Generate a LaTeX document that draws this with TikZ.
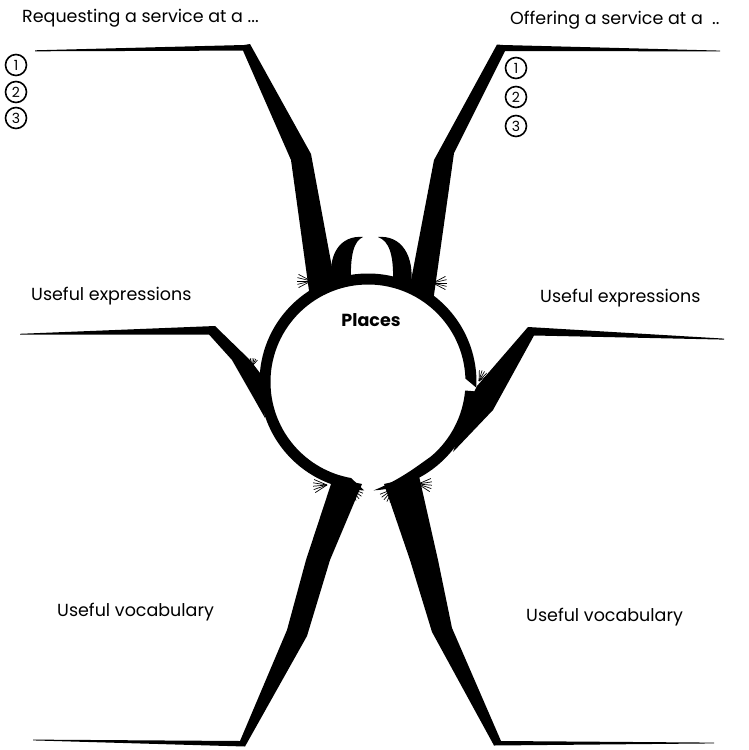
\documentclass[tikz,border=0pt]{standalone}
\usepackage{fontspec}
\setmainfont{Poppins}
\usetikzlibrary{calc}
\definecolor{ink}{HTML}{000000}
\tikzset{
  branch/.style={fill=ink},
  ring/.style={fill=ink},
  fringe/.style={draw=ink, line width=0.7pt},
  topic/.style={font=\fontsize{17.5}{20}\selectfont, anchor=west, inner sep=0pt},
  hub/.style={font=\fontsize{17.5}{20}\selectfont\bfseries, inner sep=0pt},
  numc/.style={circle, draw=ink, line width=1.6pt, minimum size=21pt,
    inner sep=0pt, font=\fontsize{14}{15}\selectfont}
}
\newcommand{\FringeAt}[3]{%
  \foreach \d in {-28,-14,0,14,28}
    \draw[fringe] (#1) -- ++(#2+\d:#3);
}

\begin{document}
\begin{tikzpicture}[x=1pt,y=-1pt]
  \useasboundingbox (0,0) rectangle (748,750);

  % the ring round the topic
  \begin{scope}[shift={(368,382)}]
    \fill[ring] (92:108.5) arc[start angle=92, end angle=363, radius=108.5]
      -- (358:97.5) arc[start angle=358, end angle=100, radius=97.5] -- cycle;
    \fill[ring] (5:108.5) arc[start angle=5, end angle=87, radius=108.5]
      .. controls (72:103) and (60:97.5) .. (50:97.5)
      arc[start angle=50, end angle=5, radius=97.5] -- cycle;
  \end{scope}

  % the two horns on top
  \fill[branch] (332,284) .. controls (327,255) and (340,235) .. (363,237)
    .. controls (354,241) and (350,254) .. (351,284) -- cycle;
  \fill[branch] (411,287) .. controls (415,255) and (401,235) .. (378,237)
    .. controls (389,241) and (394,254) .. (393,284) -- cycle;

  % branches
  \fill[branch] (35,50.3) -- (244,45) -- (250,44) -- (311,154) -- (336,289)
    -- (310,298) -- (291,160) -- (243,50.6) -- (35,51.3) -- cycle;
  \fill[branch] (720,50.6) -- (503,45) -- (497,44.5) -- (434,160) -- (409,291)
    -- (433,302) -- (454,153) -- (505,51) -- (720,51.4) -- cycle;
  \fill[branch] (20,333.8) -- (215,326) -- (250,360) -- (260,373) -- (265,418)
    -- (252,395) -- (232,360) -- (209,334.5) -- (20,334.6) -- cycle;
  \fill[branch] (724,338.6) -- (528,327) -- (477,386) -- (474,392) -- (453,452)
    -- (493,410) -- (534,335.5) -- (724,339.6) -- cycle;
  \fill[branch] (333,478) -- (306,560) -- (287,630) -- (240,741) -- (33,739.6)
    -- (33,740.4) -- (245,746.5) -- (307,636) -- (330,560) -- (362,484) -- cycle;
  \fill[branch] (384,484) -- (410,560) -- (432,632) -- (494,745.5) -- (714,743.4)
    -- (714,742.6) -- (501,741) -- (452,628) -- (438,560) -- (419,476) -- cycle;

  % ink splashes where branches meet the ring
  \FringeAt{311,281}{180}{14}
  \FringeAt{433,283}{0}{14}
  \FringeAt{252,366}{285}{8}
  \FringeAt{479,381}{300}{11}
  \FringeAt{327,485}{175}{14}
  \FringeAt{350,488}{50}{14}
  \FringeAt{393,489}{130}{14}
  \FringeAt{418,484}{5}{14}

  \node[hub] (places) at (371,320) {Places};
  \node[topic] (request) at (22,18) {Requesting a service at a ...};
  \node[topic] (offer) at (510,20) {Offering a service at a \ ..};
  \node[topic] (exprL) at (31,296) {Useful expressions};
  \node[topic] (exprR) at (540,298) {Useful expressions};
  \node[topic] (vocabL) at (57,612) {Useful vocabulary};
  \node[topic] (vocabR) at (526,617) {Useful vocabulary};

  \foreach \n/\y in {1/65,2/92,3/118}
    \node[numc] (numL\n) at (16,\y) {\n};
  \foreach \n/\y in {1/68,2/97,3/126}
    \node[numc] (numR\n) at (516,\y) {\n};
\end{tikzpicture}
\end{document}
